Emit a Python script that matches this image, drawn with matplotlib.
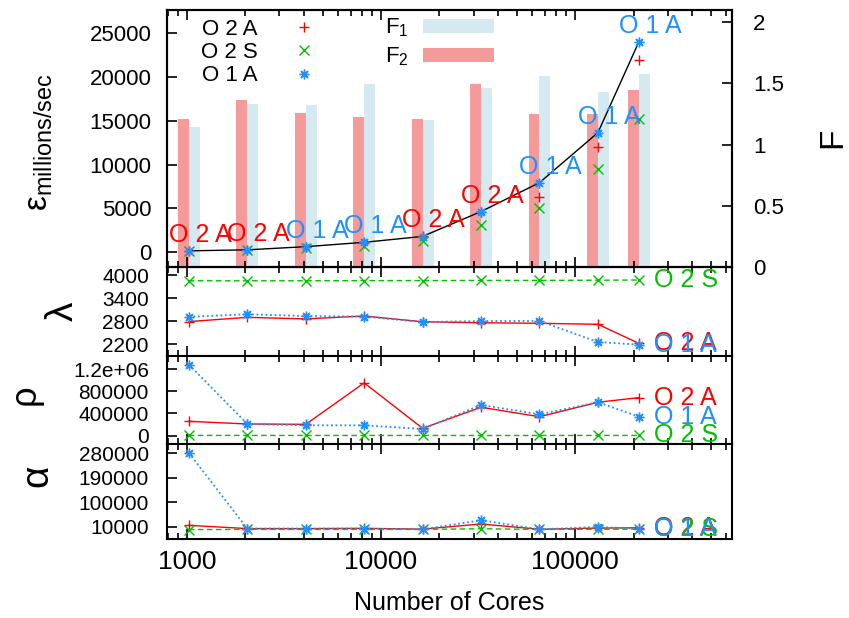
import matplotlib
matplotlib.use('Agg')
import matplotlib.pyplot as plt
from matplotlib.ticker import FuncFormatter, NullFormatter, LogLocator

plt.rcParams['font.family'] = ['Liberation Sans', 'DejaVu Sans']
plt.rcParams['mathtext.fontset'] = 'custom'
plt.rcParams['mathtext.rm'] = 'Liberation Sans'
plt.rcParams['mathtext.it'] = 'Liberation Sans:italic'
plt.rcParams['mathtext.bf'] = 'Liberation Sans:bold'

# core counts of the runs
cores = [1024, 2048, 4096, 8192, 16384, 32768, 65536, 131072, 212992]
names = ['O 2 A', 'O 2 S', 'O 1 A']
colors = ['#ff0000', '#00c000', '#1e90ff']

# throughput, millions of updates per second
eps_o2a = [165, 280, 600, 1080, 1810, 4650, 6350, 11990, 21960]
eps_o2s = [120, 220, 480, 750, 1330, 3120, 5060, 9550, 15220]
eps_o1a = [150, 263, 640, 1140, 1780, 4600, 7950, 13660, 24016]

# F ratios (right axis)
f1 = [1.144, 1.332, 1.324, 1.495, 1.201, 1.462, 1.56, 1.43, 1.577]
f2 = [1.209, 1.364, 1.258, 1.225, 1.209, 1.495, 1.25, 1.25, 1.446]

lam_o2a = [2790, 2900, 2860, 2935, 2785, 2760, 2745, 2720, 2225]
lam_o2s = [3850, 3850, 3850, 3855, 3855, 3860, 3860, 3865, 3870]
lam_o1a = [2915, 2980, 2935, 2920, 2780, 2805, 2805, 2260, 2190]

rho_o2a = [259000, 211000, 205000, 950000, 133000, 512000, 342000, 602000, 685000]
rho_o2s = [6000, 5000, 5000, 5000, 5000, 4000, 4000, 5000, 5000]
rho_o1a = [1279000, 211000, 187000, 187000, 121000, 553000, 385000, 602000, 342000]

alpha_o2a = [16000, 4100, 4000, 5000, 2000, 21000, 1500, 6000, 7000]
alpha_o2s = [500, 1000, 1000, 1000, 1000, 3500, 1000, 1500, 2000]
alpha_o1a = [281800, 4100, 4000, 4000, 1500, 34600, 1500, 10000, 4100]

eps_ticks = [0, 5000, 10000, 15000, 20000, 25000]
f_ticks = [0, 0.5, 1, 1.5, 2]
f_labels = ['0', '0.5', '1', '1.5', '2']
lam_ticks = [2200, 2800, 3400, 4000]
rho_ticks = [0, 400000, 800000, 1200000]
rho_labels = ['0', '400000', '800000', '1.2e+06']
alpha_ticks = [10000, 100000, 190000, 280000]

W, H = 849, 618
fig = plt.figure(figsize=(W / 100, H / 100), dpi=100)


def box(top, bottom, left=167, right=732):
    return [left / W, 1 - bottom / H, (right - left) / W, (bottom - top) / H]


ax = fig.add_axes(box(10, 267))
ax_l = fig.add_axes(box(267, 356), sharex=ax)
ax_r = fig.add_axes(box(356, 444), sharex=ax)
ax_a = fig.add_axes(box(444, 539), sharex=ax)

ax.set_xscale('log')
ax.set_xlim(790, 643000)

for a in (ax, ax_l, ax_r, ax_a):
    for s in a.spines.values():
        s.set_linewidth(1.5)
    a.tick_params(axis='x', which='both', direction='in', top=True, bottom=True,
                  labelbottom=False, width=1.2)
    a.tick_params(axis='x', which='major', length=7)
    a.tick_params(axis='x', which='minor', length=4)
    a.tick_params(axis='y', which='both', direction='in', left=True, right=False,
                  length=7, width=1.2, labelsize=15, pad=13)
    a.xaxis.set_major_locator(LogLocator(base=10))
    a.xaxis.set_minor_locator(LogLocator(base=10, subs=range(2, 10)))
    a.xaxis.set_minor_formatter(NullFormatter())

ax_a.tick_params(axis='x', which='major', labelbottom=True, labelsize=19, pad=8)
ax_a.xaxis.set_major_formatter(FuncFormatter(lambda v, p: f'{v:.0f}'))

# --- top panel: F bars on the right axis, throughput on the left
tw = ax.twinx()
w = 1.139
b1 = tw.bar(cores, f1, width=[c * w - c for c in cores], align='edge',
            color='#d5e9f0', linewidth=0)
b2 = tw.bar([c / w for c in cores], f2, width=[c - c / w for c in cores],
            align='edge', color='#f59a9a', linewidth=0)
tw.set_ylim(0, 2.1)
tw.set_yticks(f_ticks)
tw.set_yticklabels(f_labels)
tw.tick_params(axis='y', direction='in', length=7, width=1.2, labelsize=16, pad=15)
for s in tw.spines.values():
    s.set_linewidth(1.5)
ax.set_zorder(tw.get_zorder() + 1)
ax.patch.set_visible(False)

ax.set_ylim(-1680, 27660)
ax.set_yticks(eps_ticks)
ax.tick_params(axis='y', pad=11, labelsize=16)

eps = [eps_o2a, eps_o2s, eps_o1a]
best = [max(v) for v in zip(*eps)]
ax.plot(cores, best, color='black', lw=1, zorder=2)

star = (8, 2, 0)
markers = ['+', 'x', star]
pts = []
for vals, m, c in zip(eps, markers, colors):
    p, = ax.plot(cores, vals, ls='none', marker=m, color=c, ms=7, mew=1, zorder=3)
    pts.append(p)

for i, x in enumerate(cores):
    k = max(range(3), key=lambda j: eps[j][i])
    ax.annotate(names[k], (x, best[i]), xytext=(8, 11.5), textcoords='offset points',
                ha='center', va='center', fontsize=18, color=colors[k], zorder=4)

leg1 = ax.legend(pts, names, loc='upper left', bbox_to_anchor=(0.06, 0.965),
                 frameon=False, markerfirst=False, handlelength=1.0,
                 handletextpad=1.6, labelspacing=0.1, borderpad=0,
                 borderaxespad=0, fontsize=16)
ax.add_artist(leg1)
ax.legend([b1, b2], ['F$_1$', 'F$_2$'], loc='upper left',
          bbox_to_anchor=(0.386, 0.975), frameon=False, markerfirst=False,
          handlelength=3.2, handleheight=0.6, handletextpad=0.65,
          labelspacing=0.3, borderpad=0, borderaxespad=0, fontsize=16)

# --- lower panels
styles = [dict(ls='-', lw=1),
          dict(ls=(0, (4, 2.5)), lw=1),
          dict(ls=(0, (1, 1.5)), lw=1.3)]


def panel(a, series, ylim, ticks, labels=None):
    for vals, m, c, n, st in zip(series, markers, colors, names, styles):
        a.plot(cores, vals, marker=m, color=c, ms=7, mew=1, **st)
    for vals, c, n in zip(series, colors, names):
        a.annotate(n, (cores[-1], vals[-1]), xytext=(11, 0),
                   textcoords='offset points', ha='left', va='center',
                   fontsize=18, color=c)
    a.set_ylim(*ylim)
    a.set_yticks(ticks)
    if labels:
        a.set_yticklabels(labels)


panel(ax_l, [lam_o2a, lam_o2s, lam_o1a], (1896, 4208), lam_ticks)
panel(ax_r, [rho_o2a, rho_o2s, rho_o1a], (-149000, 1434000), rho_ticks, rho_labels)
panel(ax_a, [alpha_o2a, alpha_o2s, alpha_o1a], (-34100, 314200), alpha_ticks)

# axis titles
fig.text(40 / W, 1 - 142 / H, r'ε$_{\mathrm{millions/sec}}$', rotation=90,
         ha='center', va='center', fontsize=24)
fig.text(833 / W, 1 - 138 / H, 'F', rotation=90, ha='center', va='center', fontsize=24)
fig.text(63 / W, 1 - 311 / H, 'λ', rotation=90, ha='center', va='center', fontsize=28)
fig.text(25 / W, 1 - 395 / H, 'ρ', rotation=90, ha='center', va='center', fontsize=26)
fig.text(37 / W, 1 - 476 / H, 'α', rotation=90, ha='center', va='center', fontsize=28)
fig.text(449.5 / W, 1 - 603 / H, 'Number of Cores', ha='center', va='center',
         fontsize=18)

fig.savefig('out.png', dpi=100)
